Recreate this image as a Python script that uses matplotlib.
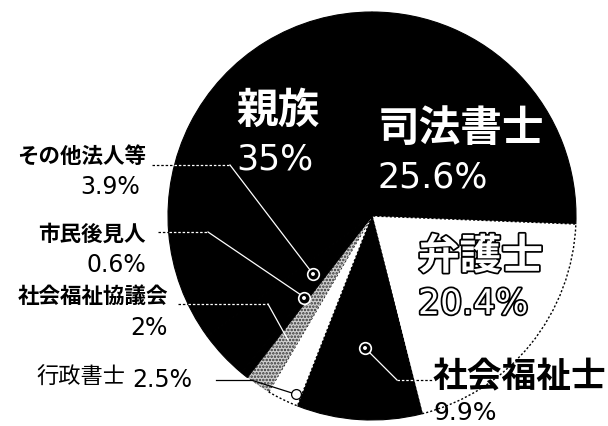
import numpy as np
import matplotlib
matplotlib.use('Agg')
from matplotlib import pyplot as plt
import matplotlib.patheffects as pe

plt.rcParams['font.family'] = ['Noto Sans CJK JP', 'DejaVu Sans']
plt.rcParams['hatch.color'] = '#333333'
plt.rcParams['hatch.linewidth'] = 1.2

# shares of guardians, clockwise from 12 o'clock
labels = ['司法書士', '弁護士', '社会福祉士', '行政書士', '社会福祉協議会', '市民後見人', 'その他法人等', '親族']
shares = [25.6, 20.4, 9.9, 2.5, 2.0, 0.6, 3.9, 35.0]
pct_text = ['25.6%', '20.4%', '9.9%', '2.5%', '2%', '0.6%', '3.9%', '35%']
fills = ['black', 'white', 'black', 'white', '#d0d0d0', 'black', 'black', 'black']

W, H = 608, 426
cx, cy = 372, 216   # pie centre, pixels from top-left
r = 204

def Y(y):
    return H - y

fig = plt.figure(figsize=(W / 100, H / 100), dpi=100)
ax = fig.add_axes([0, 0, 1, 1])
wedges, _ = ax.pie(shares, colors=fills, startangle=90, counterclock=False,
                   radius=r, center=(cx, Y(cy)), wedgeprops=dict(linewidth=0))
for w, f in zip(wedges, fills):
    if f == 'white':
        w.set_edgecolor('black')
        w.set_linewidth(1.0)
        w.set_linestyle((0, (1.5, 1.5)))
    elif f == 'black':
        w.set_edgecolor('black')
        w.set_linewidth(0.8)
    else:
        w.set_hatch('.....')
        w.set_edgecolor('#333333')
ax.set_xlim(0, W)
ax.set_ylim(0, H)
ax.set_aspect('equal')
ax.axis('off')

num = ['DejaVu Sans', 'Noto Sans CJK JP']

# big labels inside the pie
ax.text(236, Y(90), labels[7], color='white', fontsize=30, fontweight='bold', va='top', ha='left')
ax.text(236, Y(143), pct_text[7], color='white', fontsize=25, family=num, va='top', ha='left')
ax.text(378, Y(108), labels[0], color='white', fontsize=30, fontweight='bold', va='top', ha='left')
ax.text(378, Y(161), pct_text[0], color='white', fontsize=25, family=num, va='top', ha='left')
outline = [pe.withStroke(linewidth=2.5, foreground='black')]
ax.text(418, Y(236), labels[1], color='white', fontsize=30, fontweight='bold', va='top', ha='left',
        path_effects=outline)
ax.text(418, Y(287), pct_text[1], color='white', fontsize=25, family=num, va='top', ha='left',
        path_effects=outline)
ax.text(433, Y(359), labels[2], color='black', fontsize=25, fontweight='bold', va='top', ha='left')
ax.text(433, Y(401), pct_text[2], color='black', fontsize=18, family=num, va='top', ha='left')

# small labels on the left
ax.text(146, Y(146), labels[6], fontsize=15.5, fontweight='bold', va='top', ha='right')
ax.text(140, Y(175), pct_text[6], fontsize=17, family=num, va='top', ha='right')
ax.text(146, Y(224), labels[5], fontsize=15.5, fontweight='bold', va='top', ha='right')
ax.text(146, Y(253), pct_text[5], fontsize=17, family=num, va='top', ha='right')
ax.text(168, Y(286), labels[4], fontsize=15.5, fontweight='bold', va='top', ha='right')
ax.text(168, Y(316), pct_text[4], fontsize=17, family=num, va='top', ha='right')
ax.text(36, Y(366), labels[3], fontsize=16, va='top', ha='left')
ax.text(132, Y(368), pct_text[3], fontsize=17, family=num, va='top', ha='left')

def edge_x(y, side=-1):
    return cx + side * np.sqrt(r ** 2 - (y - cy) ** 2)

dash = (0, (2, 1.5))

def leader(x0, y, xc, pts, inner='white'):
    # dashed horizontal from the label, black outside the pie, then into the pie
    xe = edge_x(y)
    ax.plot([x0, xe], [Y(y), Y(y)], color='black', lw=0.9, ls=dash)
    ax.plot([xe, xc], [Y(y), Y(y)], color=inner, lw=0.9, ls=dash)
    xs = [xc] + [p[0] for p in pts]
    ys = [Y(y)] + [Y(p[1]) for p in pts]
    ax.plot(xs, ys, color=inner, lw=0.9)

leader(152, 165, 230, [(310, 270)])
leader(158, 232, 208, [(301, 295)])
leader(178, 304, 268, [(288, 340)])
ax.plot([216, 251], [Y(380), Y(380)], color='black', lw=0.9)
ax.plot([251, 292], [Y(380), Y(393)], color='black', lw=0.9)

# 社会福祉士 leader
ax.plot([368, 397], [Y(351), Y(380)], color='white', lw=0.9)
ax.plot([397, 416], [Y(380), Y(380)], color='white', lw=0.9, ls=dash)
ax.plot([416, 432], [Y(380), Y(380)], color='black', lw=0.9, ls=dash)

# circled markers
mx = [313, 304, 365]
my = [274, 298, 348]
ax.scatter(mx, [Y(v) for v in my], s=70, facecolor='black', edgecolor='white', linewidth=1.2, zorder=5)
ax.scatter(mx, [Y(v) for v in my], s=8, facecolor='white', edgecolor='none', zorder=6)
ax.scatter([296], [Y(394)], s=50, facecolor='white', edgecolor='black', linewidth=0.9, zorder=5)

fig.savefig('out.png', dpi=100)
